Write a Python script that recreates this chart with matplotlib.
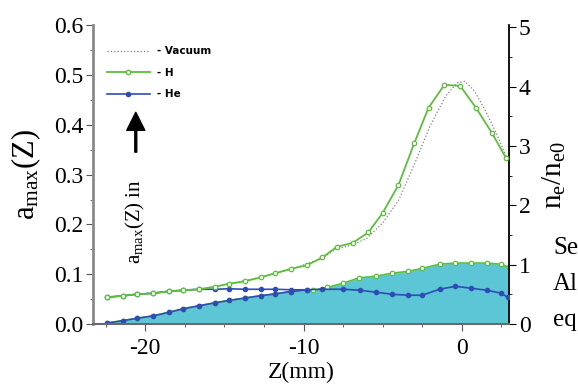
import numpy as np
import matplotlib
matplotlib.use('Agg')
from matplotlib import pyplot as plt
from matplotlib.lines import Line2D
from matplotlib.ticker import MultipleLocator

plt.rcParams['font.family'] = 'Liberation Serif'
plt.rcParams['mathtext.fontset'] = 'stix'
plt.rcParams['axes.unicode_minus'] = False

# a_max(Z) in H (left axis)
z_h = [-22.4, -21.4, -20.5, -19.5, -18.5, -17.6, -16.6, -15.6, -14.7, -13.7,
       -12.7, -11.8, -10.8, -9.8, -8.8, -7.9, -6.9, -5.9, -5.0, -4.0,
       -3.0, -2.1, -1.1, -0.1, 0.9, 1.9, 2.8]
amax_h = [0.054, 0.057, 0.060, 0.062, 0.066, 0.068, 0.070, 0.075, 0.081, 0.086,
          0.094, 0.102, 0.111, 0.118, 0.134, 0.155, 0.163, 0.184, 0.223, 0.279,
          0.363, 0.434, 0.480, 0.478, 0.434, 0.384, 0.333]

# a_max(Z) in vacuum (left axis)
z_vac = [-22.4, -20.5, -18.5, -16.6, -14.7, -12.7, -10.8, -8.8, -8.0, -7.0,
         -6.0, -5.0, -4.0, -3.0, -2.0, -1.0, -0.3, 0.2, 0.8, 1.5, 2.2, 2.8]
amax_vac = [0.054, 0.060, 0.066, 0.070, 0.081, 0.094, 0.110, 0.132, 0.150, 0.158,
            0.172, 0.203, 0.248, 0.320, 0.398, 0.458, 0.484, 0.487, 0.468, 0.428,
            0.382, 0.338]

# a_max(Z) in He (left axis)
z_he = [-22.4, -21.4, -20.5, -19.5, -18.5, -17.6, -16.6, -15.6, -14.7, -13.7,
        -12.7, -11.8, -10.8, -9.8, -8.8, -7.5, -6.4, -5.4, -4.4, -3.4,
        -2.5, -1.4, -0.4, 0.6, 1.6, 2.5, 2.9]
amax_he = [0.054, 0.057, 0.060, 0.062, 0.066, 0.068, 0.070, 0.070, 0.071, 0.070,
           0.070, 0.070, 0.069, 0.069, 0.070, 0.070, 0.068, 0.064, 0.060, 0.058,
           0.058, 0.070, 0.076, 0.072, 0.068, 0.062, 0.054]

# n_e/n_e0 profile (right axis)
z_dens = [-22.4, -21.4, -20.5, -19.5, -18.5, -17.6, -16.6, -15.6, -14.7, -13.7,
          -12.7, -11.8, -10.8, -9.4, -8.5, -7.5, -6.5, -5.4, -4.4, -3.4,
          -2.5, -1.4, -0.4, 0.6, 1.6, 2.5, 2.97]
dens = [0.02, 0.06, 0.10, 0.14, 0.20, 0.26, 0.31, 0.36, 0.40, 0.44,
        0.48, 0.51, 0.55, 0.57, 0.62, 0.69, 0.78, 0.81, 0.86, 0.89,
        0.94, 1.01, 1.03, 1.03, 1.03, 1.01, 0.96]

# He density along the rising edge (right axis)
z_dens_he = [-22.4, -21.4, -20.5, -19.5, -18.5, -17.6, -16.6, -15.6, -14.7,
             -13.7, -12.7, -11.8, -10.8, -9.8]
dens_he = [0.02, 0.06, 0.10, 0.14, 0.20, 0.26, 0.31, 0.36, 0.40,
           0.44, 0.48, 0.51, 0.55, 0.58]

green = '#5cbf3a'
blue = '#2d4db5'
cyan = '#5cc6d6'

fig = plt.figure(figsize=(5.78, 3.85), dpi=100)
ax = fig.add_axes([0.161, 0.158, 0.72, 0.777])
ax2 = ax.twinx()
ax.set_zorder(ax2.get_zorder() + 1)
ax.patch.set_visible(False)

# density (right axis)
ax2.fill_between(z_dens, 0, dens, color=cyan, lw=0)
ax2.plot(z_dens, dens, color=green, lw=1.2, marker='o', ms=3.2,
         mfc='white', mec=green, mew=0.9)
ax2.plot(z_dens_he, dens_he, color=blue, lw=1.2, marker='o', ms=3,
         mfc=blue, mec=blue)

# a_max curves (left axis)
ax.plot(z_he, amax_he, color=blue, lw=1.2, marker='o', ms=3,
        mfc=blue, mec=blue)
ax.plot(z_vac, amax_vac, color='gray', lw=0.9, ls=':')
ax.plot(z_h, amax_h, color=green, lw=1.3, marker='o', ms=3.2,
        mfc='white', mec=green, mew=0.9)

ax.set_xlim(-23.3, 3.0)
ax.set_ylim(0, 0.6)
ax2.set_ylim(0, 5.04)

ax.xaxis.set_major_locator(MultipleLocator(10))
ax.xaxis.set_minor_locator(MultipleLocator(2.5))
ax.yaxis.set_major_locator(MultipleLocator(0.1))
ax.yaxis.set_minor_locator(MultipleLocator(0.05))
ax2.yaxis.set_major_locator(MultipleLocator(1))
ax2.yaxis.set_minor_locator(MultipleLocator(0.5))
ax.yaxis.set_major_formatter(plt.FormatStrFormatter('%.1f'))

for a in (ax, ax2):
    a.spines['top'].set_visible(False)
ax.spines['right'].set_visible(False)
ax2.spines['left'].set_visible(False)
ax2.spines['bottom'].set_visible(False)
ax.spines['left'].set_color('#8a8a8a')
ax.spines['left'].set_linewidth(2)
ax.spines['bottom'].set_color('#6a6a6a')
ax.spines['bottom'].set_linewidth(1.5)
ax2.spines['right'].set_color('black')
ax2.spines['right'].set_linewidth(1.3)

ax.tick_params(axis='both', which='major', direction='out', length=5,
               labelsize=17, color='#555555', pad=2)
ax.tick_params(axis='x', which='major', pad=5)
ax.tick_params(axis='both', which='minor', direction='out', length=2.5,
               color='#555555')
ax2.tick_params(axis='y', which='major', direction='out', length=5,
                labelsize=17, pad=2)
ax2.tick_params(axis='y', which='minor', direction='out', length=2.5)

ax.set_xlabel('Z(mm)', fontsize=17, labelpad=2)
ax.set_ylabel(r'$\mathregular{a_{max}(Z)}$', fontsize=22, labelpad=8)
ax2.set_ylabel(r'$\mathregular{n_e/n_{e0}}$', fontsize=21, labelpad=7)

# rotated note with arrow
ax.text(-20.6, 0.205, r'$\mathregular{a_{max}(Z)}$ in', rotation=90,
        fontsize=15, ha='center', va='center')
ax.annotate('', xy=(-20.6, 0.425), xytext=(-20.6, 0.345),
            arrowprops=dict(facecolor='black', edgecolor='black',
                            width=1.4, headwidth=13, headlength=13))

handles = [
    Line2D([], [], color='gray', lw=0.9, ls=':'),
    Line2D([], [], color=green, lw=1.3, marker='o', ms=3.2, mfc='white',
           mec=green, markevery=[1]),
    Line2D([], [], color=blue, lw=1.2, marker='o', ms=3, mfc=blue,
           mec=blue, markevery=[1]),
]
for h in handles:
    h.set_data([0, 0.5, 1], [0, 0, 0])
leg = ax.legend(handles, ['- Vacuum', '- H', '- He'], loc='upper left',
                bbox_to_anchor=(0.01, 0.96), frameon=False, handlelength=4.2,
                handletextpad=0.6, labelspacing=1.1,
                prop={'family': 'DejaVu Sans', 'weight': 'bold', 'size': 7.5})

# text cut off at the right edge of the page
fig.text(553 / 578, 1 - 248 / 385, 'Se', fontsize=18, va='center')
fig.text(553 / 578, 1 - 284 / 385, 'Al', fontsize=18, va='center')
fig.text(553 / 578, 1 - 320 / 385, 'eq', fontsize=18, va='center')

plt.savefig('out.png', dpi=100)
plt.close()
